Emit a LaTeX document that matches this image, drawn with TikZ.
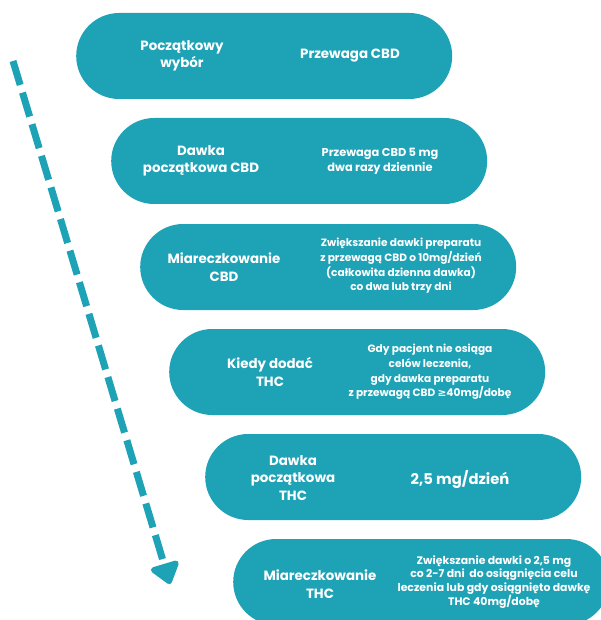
\documentclass[tikz,border=0pt]{standalone}
\usepackage{fontspec}
\setmainfont{Poppins}
\newfontfamily\symf{DejaVu Sans}
\usetikzlibrary{arrows.meta}
\definecolor{teal1}{RGB}{30,162,182}
\tikzset{
  stadium/.style={fill=teal1, draw=none, rounded corners=43pt, minimum width=376pt, minimum height=86pt, inner sep=0pt},
  lbl/.style={text=white, align=center, inner sep=0pt, font=\bfseries\fontsize{13.4}{17.5}\selectfont},
  rtxt/.style={text=white, align=center, inner sep=0pt, font=\bfseries\fontsize{10.6}{14.6}\selectfont},
  flow/.style={draw=teal1, line width=7pt, dash pattern=on 25pt off 8pt, -{Triangle[width=33pt,length=23pt,round]}}
}
\begin{document}
\begin{tikzpicture}[x=1pt,y=-1pt]
\useasboundingbox (0,0) rectangle (601,620);
\clip (0,0) rectangle (601,620);
\node[stadium, anchor=west] (b1) at (76,56) {};
\node[stadium, anchor=west] (b2) at (111,161) {};
\node[stadium, anchor=west] (b3) at (140,267) {};
\node[stadium, anchor=west] (b4) at (169,372) {};
\node[stadium, anchor=west] (b5) at (205,477) {};
\node[stadium, anchor=west] (b6) at (233,582) {};

\node[lbl] (l1) at (182,56) {Początkowy\\wybór};
\node[lbl] (r1) at (350,56) {Przewaga CBD};

\node[lbl] (l2) at (201,161) {Dawka\\początkowa CBD};
\node[rtxt, font=\bfseries\fontsize{11.4}{15}\selectfont] (r2) at (380,161) {Przewaga CBD 5 mg\\dwa razy dziennie};

\node[lbl] (l3) at (224,267) {Miareczkowanie\\CBD};
\node[rtxt] (r3) at (401,266) {Zwiększanie dawki preparatu\\z przewagą CBD o 10mg/dzień\\(całkowita dzienna dawka)\\co dwa lub trzy dni};

\node[lbl] (l4) at (270,372) {Kiedy dodać\\THC};
\node[rtxt] (r4) at (430,372) {Gdy pacjent nie osiąga\\celów leczenia,\\gdy dawka preparatu\\z przewagą CBD {\symf ≥}40mg/dobę};

\node[lbl] (l5) at (293,478) {Dawka\\początkowa\\THC};
\node[lbl, font=\bfseries\fontsize{14.8}{17}\selectfont] (r5) at (460,480) {2,5 mg/dzień};

\node[lbl] (l6) at (320,584) {Miareczkowanie\\THC};
\node[rtxt, font=\bfseries\fontsize{10.9}{13.8}\selectfont] (r6) at (494,582) {Zwiększanie dawki o 2,5 mg\\co 2-7 dni\ \ do osiągnięcia celu\\leczenia lub gdy osiągnięto dawkę\\THC 40mg/dobę};

\coordinate (astart) at (13,61);
\coordinate (aend) at (170,584);
\draw[flow] (astart) -- (aend);
\end{tikzpicture}
\end{document}
